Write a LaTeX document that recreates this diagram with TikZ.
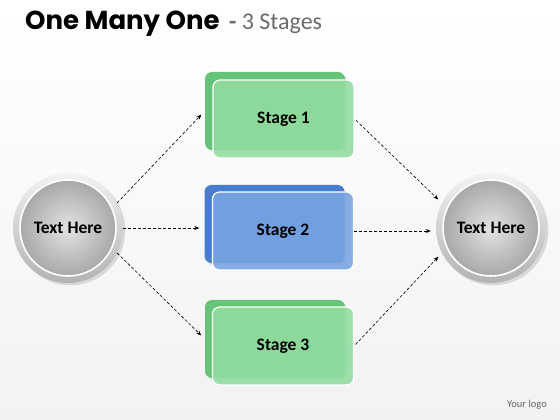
\documentclass[tikz,border=0pt]{standalone}
\usepackage{fontspec}
\setmainfont{Carlito}
\newfontfamily\titlefont{Poppins}
\usetikzlibrary{positioning,shadows,arrows.meta}

\definecolor{greenback}{RGB}{102,196,120}
\definecolor{greenfront}{RGB}{146,220,160}
\definecolor{blueback}{RGB}{72,124,204}
\definecolor{bluefront}{RGB}{120,164,226}

\tikzset{
  ring/.style={circle, minimum size=110pt, inner sep=0pt, top color=gray!10, bottom color=gray!60, drop shadow={opacity=0.25}},
  disc/.style={circle, minimum size=96pt, inner sep=0pt, draw=white, line width=1.6pt, inner color=gray!22, outer color=gray!68, font=\bfseries\fontsize{17.5}{20}\selectfont},
  backbox/.style={rounded corners=7pt, minimum width=140pt, minimum height=78pt, fill=#1, drop shadow={opacity=0.2}},
  frontbox/.style={rounded corners=7pt, minimum width=141pt, minimum height=78pt, fill=#1, fill opacity=0.88, text opacity=1, draw=white, line width=1.2pt, font=\bfseries\fontsize{17.5}{20}\selectfont},
  link/.style={densely dashed, line width=0.6pt, -{Stealth[length=5pt,width=4pt]}, shorten >=5pt}
}

\begin{document}
\begin{tikzpicture}[x=1pt,y=1pt]
	\useasboundingbox (0,0) rectangle (560,420);
	\fill[top color=white, bottom color=gray!10] (0,0) rectangle (560,420);

	\node[anchor=base west, inner sep=0pt] (title) at (25,390) {\titlefont\bfseries\fontsize{26}{30}\selectfont One Many One};
	\node[inner sep=0pt, right=9pt of title.base east, anchor=base west, text=gray!85!black] (sub) {\bfseries\fontsize{24}{28}\selectfont - \mdseries 3 Stages};
	\node[text=gray!80!black, font=\fontsize{10.5}{12}\selectfont] (logo) at (527,15) {Your logo};

	\node[ring] (lt) at (68,192) {};
	\node[disc] (ltin) at (lt) {Text Here};
	\node[ring] (rt) at (491,192) {};
	\node[disc] (rtin) at (rt) {Text Here};

	\node[backbox=greenback] (s1b) at (275,309) {};
	\node[frontbox=greenfront] (s1) at (283.5,301) {Stage 1};
	\node[backbox=blueback] (s2b) at (274.5,196) {};
	\node[frontbox=bluefront] (s2) at (283,189) {Stage 2};
	\node[backbox=greenback] (s3b) at (275,81) {};
	\node[frontbox=greenfront] (s3) at (283,74) {Stage 3};

	\draw[link] (lt.27) -- (s1b.west);
	\draw[link] (lt.east) -- (lt.east -| s2b.west);
	\draw[link] (lt.-27) -- (s3b.west);
	\draw[link, shorten <=2pt] (s1.east) -- (rt.153);
	\draw[link] (s2.east) -- (s2.east -| rt.west);
	\draw[link, shorten <=2pt] (s3.east) -- (rt.-153);
\end{tikzpicture}
\end{document}
